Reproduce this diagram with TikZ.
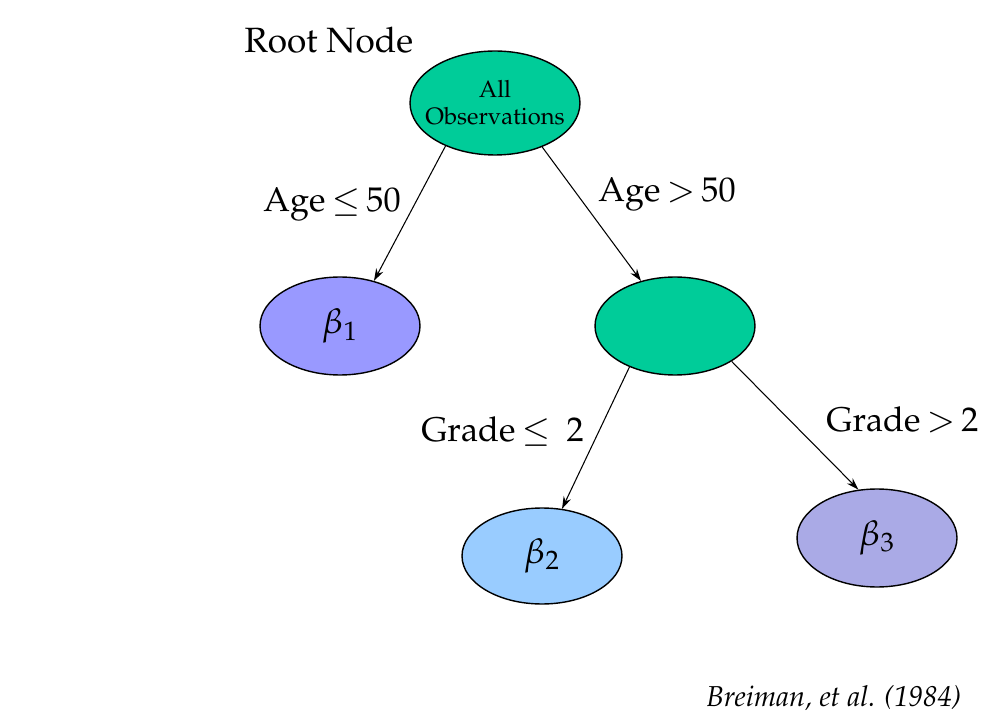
\documentclass[tikz,border=0pt]{standalone}
\usepackage[T1]{fontenc}
\usepackage{mathpazo}
\usetikzlibrary{shapes.geometric,arrows.meta}
\definecolor{splitgreen}{RGB}{0,204,153}
\definecolor{leafone}{RGB}{153,153,255}
\definecolor{leaftwo}{RGB}{153,204,255}
\definecolor{leafthree}{RGB}{170,170,230}
\newcommand{\relle}{\hspace{0.18em}$\mathord{\leq}$\hspace{0.18em}}
\newcommand{\relgt}{\hspace{0.18em}$\mathord{>}$\hspace{0.18em}}
\tikzset{
  treenode/.style={ellipse, draw=black, line width=0.8pt, inner sep=0pt,
    minimum width=3.2cm, minimum height=1.96cm, font=\fontsize{20}{24}\selectfont},
  branch/.style={line width=0.6pt, -{Stealth[length=7pt,width=4.5pt]}},
  lbl/.style={anchor=base west, inner sep=0pt, font=\fontsize{19.5}{23}\selectfont}
}
\begin{document}
\begin{tikzpicture}[x=0.02cm, y=-0.02cm]
\useasboundingbox (0,0) rectangle (1000,722);

% tree nodes
\node[treenode, fill=splitgreen, minimum width=3.4cm, minimum height=2.08cm] (root) at (495,103) {};
\node[align=center, inner sep=0pt, font=\fontsize{13.5}{15.5}\selectfont] (roottext) at (root.center) {All\\Observations};
\node[treenode, fill=leafone] (b1) at (340,326) {$\beta_1$};
\node[treenode, fill=splitgreen] (mid) at (675,326) {};
\node[treenode, fill=leaftwo, minimum height=1.92cm] (b2) at (542,556) {$\beta_2$};
\node[treenode, fill=leafthree] (b3) at (877,538) {$\beta_3$};

% branches
\draw[branch] (root.221.9) -- (b1.53.7);
\draw[branch] (root.317.5) -- (mid.127.8);
\draw[branch] (mid.222.4) -- (b2.67.2);
\draw[branch] (mid.328.2) -- (b3.111.6);

% labels
\node[lbl, font=\fontsize{20}{24}\selectfont] (rootlbl) at (244,53) {Root Node};
\node[lbl] (agelo) at (263,212) {Age\relle50};
\node[lbl] (agehi) at (598,202) {Age\relgt50};
\node[lbl] (gradelo) at (421,441) {Grade\relle\hspace{0.3em}2};
\node[lbl] (gradehi) at (826,432) {Grade\relgt2};
\node[lbl, font=\fontsize{16.4}{19}\selectfont\itshape] (cite) at (706,706) {Breiman, et al. (1984)};
\end{tikzpicture}
\end{document}
